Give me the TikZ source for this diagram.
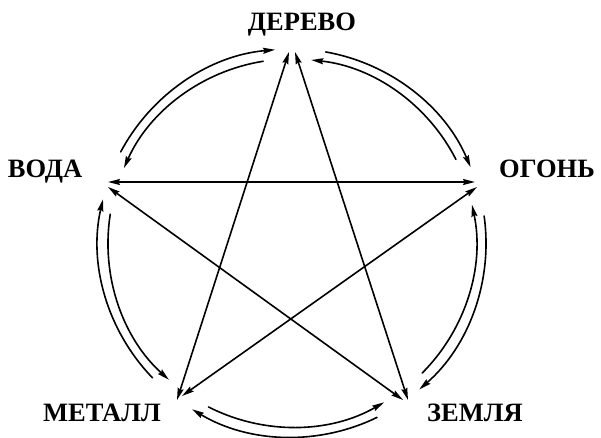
\documentclass[tikz,border=0pt]{standalone}
\usepackage{fontspec}
\setmainfont{Liberation Serif}
\usetikzlibrary{arrows.meta}
\begin{document}
\begin{tikzpicture}[x=1pt,y=1pt,
  conn/.style={line width=1.6pt,line cap=round},
  tipp/.style={-{Stealth[length=12pt,width=6pt,inset=1.5pt]}},
  both/.style={{Stealth[length=12pt,width=6pt,inset=1.5pt]}-{Stealth[length=12pt,width=6pt,inset=1.5pt]}},
  lab/.style={font=\fontsize{26.5}{30}\selectfont\bfseries,inner sep=0pt}]
\useasboundingbox (-292,-195) rectangle (309,243);
\coordinate (c) at (0,0);
% star endpoints
\coordinate (tL) at (-3,191);
\coordinate (tR) at (3,191);
\coordinate (vH) at (-184,61);
\coordinate (vD) at (-184,56);
\coordinate (oH) at (183,61);
\coordinate (oD) at (185,56);
\coordinate (mT) at (-115,-157);
\coordinate (mD) at (-110,-153);
\coordinate (zV) at (111,-157);
\coordinate (zT) at (116,-157);
% labels
\node[lab,anchor=base] (derevo) at (10,212) {ДЕРЕВО};
\node[lab,anchor=base] (voda) at (-247,65) {ВОДА};
\node[lab,anchor=base west] (ogon) at (207,65) {ОГОНЬ};
\node[lab,anchor=base] (metall) at (-190,-178) {МЕТАЛЛ};
\node[lab,anchor=base] (zemlya) at (183,-178) {ЗЕМЛЯ};
% star
\draw[conn,both] (tL) -- (mT);
\draw[conn,both] (tR) -- (zT);
\draw[conn,both] (vH) -- (oH);
\draw[conn,both] (vD) -- (zV);
\draw[conn,both] (oD) -- (mD);
% arcs: outer clockwise, inner counterclockwise
\foreach \a in {18,90,162,234,306}{
  \draw[conn,tipp] ([shift={(\a-10:194)}]c) arc[start angle=\a-10, end angle=\a-67, radius=194];
  \draw[conn,tipp] ([shift={(\a+9:184)}]c) arc[start angle=\a+9, end angle=\a+66, radius=184];
}
\end{tikzpicture}
\end{document}
